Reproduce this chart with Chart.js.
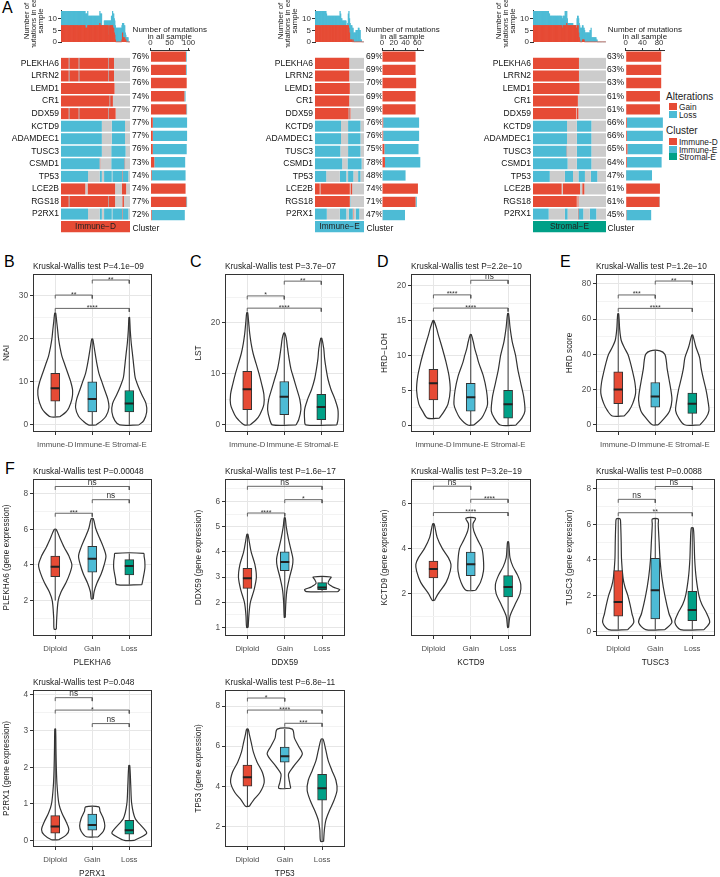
<!DOCTYPE html>
<html>
<head>
<meta charset="utf-8">
<script src="https://cdn.jsdelivr.net/npm/chart.js@4.4.1/dist/chart.umd.min.js"></script>
<style>
body { margin: 0; background: #fff; width: 720px; height: 877px; position: relative; overflow: hidden;
       font-family: 'Liberation Sans', Arial, sans-serif; color: #222; }
canvas { position: absolute; }
.letter { position: absolute; font-size: 16px; line-height: 16px; color: #000; }
.leg { position: absolute; font-size: 8.3px; line-height: 8px; color: #222; white-space: nowrap; }
.legt { position: absolute; font-size: 10px; line-height: 10px; color: #222; }
.sw { position: absolute; width: 8px; height: 7px; }
</style>
</head>
<body>
<div class="letter" style="left:2px;top:0px">A</div>
<div class="letter" style="left:4px;top:254px">B</div>
<div class="letter" style="left:190px;top:254px">C</div>
<div class="letter" style="left:377px;top:254px">D</div>
<div class="letter" style="left:560px;top:254px">E</div>
<div class="letter" style="left:5px;top:461px">F</div>

<div class="legt" style="left:666px;top:92px">Alterations</div>
<div class="sw" style="left:669px;top:103px;background:#E64B35"></div><div class="leg" style="left:679px;top:103px">Gain</div>
<div class="sw" style="left:669px;top:111px;background:#4DBBD5"></div><div class="leg" style="left:679px;top:111px">Loss</div>
<div class="legt" style="left:666px;top:126px">Cluster</div>
<div class="sw" style="left:669px;top:138px;background:#E64B35"></div><div class="leg" style="left:679px;top:138px">Immune-D</div>
<div class="sw" style="left:669px;top:145.5px;background:#4DBBD5"></div><div class="leg" style="left:679px;top:145.5px">Immune-E</div>
<div class="sw" style="left:669px;top:153px;background:#00A087"></div><div class="leg" style="left:679px;top:153px">Stromal-E</div>

<script>
// ---------- panel A data ----------
const genes = ['PLEKHA6', 'LRRN2', 'LEMD1', 'CR1', 'DDX59', 'KCTD9', 'ADAMDEC1', 'TUSC3', 'CSMD1', 'TP53', 'LCE2B', 'RGS18', 'P2RX1'];

// runs of samples along each row: G = gain, L = loss, N = no alteration
const immuneDRuns = [
  'G14 L1 G17 L1 G53 L1 G9 N29',
  'G14 L1 G17 L1 G53 L1 G9 N29',
  'G97 N28',
  'G88 L1 G5 N31',
  'G14 L1 G17 L1 G53 L1 G12 N26',
  'L74 N18 L24 N9',
  'L74 N18 L24 N9',
  'L74 N17 L26 N8',
  'L70 G1 N20 L24 G1 N9',
  'L49 N21 L4 N4 L14 N1 L18 G1 L10 N3',
  'G44 N4 G50 N12 G8 N7',
  'G14 L1 G71 L1 G11 N13 G3 N11',
  'L49 N21 L4 N4 L14 N1 L18 G1 L10 N3'
];
const immuneERuns = [
  'G58 N25',
  'G58 N25',
  'G59 N24',
  'G58 N25',
  'G57 L1 G2 N23',
  'L44 N12 L21 N6',
  'L44 N12 L21 N6',
  'L43 N13 L21 N6',
  'L46 N9 L24 N4',
  'L19 N23 L11 N3 L9 N8 L4 N6',
  'G8 N1 G50 N1 G3 N20',
  'G59 L1 N23',
  'L20 N22 L11 N4 L7 G1 N4 L6 N8'
];
const stromalERuns = [
  'G85 N50',
  'G85 N50',
  'G86 N49',
  'G83 N52',
  'G80 N1 G3 N51',
  'L63 N18 L27 N27',
  'L63 N18 L27 N27',
  'L62 G1 N18 L27 N27',
  'L64 N17 L27 N27',
  'L31 N28 L15 N10 L12 N11 L12 N16',
  'G53 N2 G32 N4 G4 N40',
  'G81 N1 G2 N51',
  'L29 N30 L5 N19 G1 L9 N12 L12 N18'
];

const immuneDPct = ['76%', '76%', '76%', '74%', '77%', '77%', '77%', '76%', '73%', '74%', '74%', '77%', '72%'];
const immuneEPct = ['69%', '69%', '70%', '69%', '69%', '76%', '76%', '75%', '78%', '48%', '74%', '71%', '47%'];
const stromalEPct = ['63%', '63%', '63%', '61%', '61%', '66%', '66%', '65%', '64%', '47%', '61%', '61%', '45%'];

const immuneDGain = [93, 93, 95, 89, 94, 6, 6, 6, 10, 3, 92, 94, 3];
const immuneDLoss = [2, 2, 0, 3, 2, 90, 90, 89, 81, 89, 0, 2, 87];
const immuneEGain = [57, 57, 58, 57, 57, 2, 2, 4, 5, 1, 61, 57, 1];
const immuneELoss = [0, 0, 0, 0, 0, 61, 61, 58, 60, 39, 0, 2, 38];
const stromalEGain = [85, 85, 85, 82, 82, 3, 3, 4, 3, 1, 82, 81, 2];
const stromalELoss = [0, 0, 0, 0, 0, 86, 86, 84, 83, 62, 0, 1, 59];

const sampleTicks = [0, 5, 10];
const immuneDCountTicks = [0, 50, 100];
const immuneECountTicks = [0, 20, 40, 60];
const stromalECountTicks = [0, 20, 40, 60, 80];

// ---------- panels B-F data ----------
const clusterGroups = ['Immune-D', 'Immune-E', 'Stromal-E'];
const cnvGroups = ['Diploid', 'Gain', 'Loss'];

// violin outlines: [value, half width in category units], bottom to top
// boxes: [whisker low, q1, median, q3, whisker high]
// comparisons: [group a, group b, bracket height, label]
const ntaiViolin = [
  [[1.9, 0.13], [3, 0.29], [4, 0.37], [6, 0.45], [8, 0.47], [10, 0.42], [12, 0.34], [14, 0.26], [16, 0.18], [18, 0.13], [20, 0.09], [22, 0.066], [24, 0.04], [26, 0.013]],
  [[0, 0.105], [1, 0.26], [2, 0.37], [4, 0.45], [6, 0.42], [8, 0.34], [10, 0.26], [12, 0.18], [14, 0.13], [16, 0.09], [18, 0.053], [20, 0.013]],
  [[0, 0.26], [1, 0.39], [3, 0.47], [5, 0.45], [7, 0.34], [9, 0.24], [11, 0.16], [13, 0.13], [15, 0.105], [17, 0.08], [19, 0.053], [22, 0.026], [25, 0.008]]
];
const ntaiBox = [[2, 5.5, 8.5, 12, 26], [0, 3, 6, 10, 20], [0, 3, 5, 8, 25]];
const ntaiSig = [[1, 2, 30.2, '**'], [1, 3, 27.1, '****'], [2, 3, 33.7, '**']];
const ntaiTicks = [0, 10, 20, 30];

const lstViolin = [
  [[0, 0.08], [1, 0.24], [2, 0.34], [4, 0.45], [6, 0.45], [8, 0.39], [10, 0.32], [12, 0.24], [14, 0.16], [16, 0.105], [18, 0.066], [20, 0.04], [22, 0.013]],
  [[0, 0.32], [1, 0.39], [3, 0.45], [5, 0.42], [7, 0.34], [9, 0.26], [11, 0.18], [13, 0.13], [15, 0.09], [17, 0.053], [18, 0.013]],
  [[0, 0.42], [1, 0.45], [3, 0.45], [5, 0.37], [7, 0.26], [9, 0.18], [11, 0.13], [13, 0.09], [15, 0.066], [17, 0.013]]
];
const lstBox = [[0, 3, 7, 10.5, 22], [0, 2, 5.5, 8.5, 18], [0, 1, 3.5, 6, 17]];
const lstSig = [[1, 2, 25.3, '*'], [1, 3, 22.9, '****'], [2, 3, 28.2, '**']];
const lstTicks = [0, 10, 20];

const hrdLohViolin = [
  [[1, 0.16], [2, 0.29], [3, 0.39], [5, 0.45], [7, 0.42], [9, 0.34], [11, 0.24], [13, 0.13], [14, 0.08], [15, 0.013]],
  [[0, 0.08], [1, 0.29], [2, 0.39], [3, 0.45], [5, 0.42], [7, 0.34], [9, 0.21], [10, 0.16], [11, 0.105], [12, 0.066], [13, 0.013]],
  [[0, 0.21], [1, 0.37], [2, 0.45], [4, 0.42], [6, 0.34], [8, 0.26], [10, 0.2], [12, 0.11], [14, 0.053], [16, 0.013]]
];
const hrdLohBox = [[1, 3.6, 6, 8, 15], [0, 2, 4, 6, 13], [0, 1, 3, 5, 16]];
const hrdLohSig = [[1, 2, 18.7, '****'], [1, 3, 16.8, '****'], [2, 3, 20.8, 'ns']];
const hrdLohTicks = [0, 5, 10, 15, 20];

const hrdScoreViolin = [
  [[5, 0.16], [8, 0.29], [12, 0.39], [18, 0.47], [24, 0.45], [30, 0.39], [36, 0.32], [40, 0.26], [44, 0.16], [48, 0.08], [54, 0.04], [63, 0.013]],
  [[0, 0.08], [4, 0.26], [8, 0.39], [14, 0.45], [20, 0.42], [26, 0.37], [32, 0.32], [36, 0.3], [40, 0.26], [42, 0.13]],
  [[0, 0.21], [4, 0.37], [8, 0.45], [14, 0.42], [20, 0.37], [26, 0.3], [32, 0.24], [38, 0.2], [44, 0.1], [51, 0.013]]
];
const hrdScoreBox = [[5, 12, 20, 30, 63], [0, 10, 16, 24, 42], [0, 6.5, 12, 18, 51]];
const hrdScoreSig = [[1, 2, 73.7, '***'], [1, 3, 66.1, '****'], [2, 3, 81.6, '**']];
const hrdScoreTicks = [0, 20, 40, 60, 80];

const plekha6Violin = [
  [[0.4, 0.03], [1, 0.04], [2, 0.08], [2.5, 0.16], [3, 0.29], [3.5, 0.39], [4, 0.45], [4.5, 0.37], [5, 0.24], [5.5, 0.13], [6, 0.026]],
  [[2.1, 0.026], [2.5, 0.05], [3, 0.13], [3.5, 0.24], [4, 0.32], [4.5, 0.37], [5, 0.3], [5.5, 0.2], [6, 0.1], [6.6, 0.026]],
  [[2.9, 0.34], [3.2, 0.37], [3.8, 0.42], [4.2, 0.42], [4.5, 0.4], [4.65, 0.39]]
];
const plekha6Box = [[2, 3.35, 3.9, 4.5, 6], [2.1, 3.6, 4.35, 5.05, 6.6], [2.9, 3.45, 3.95, 4.3, 4.65]];
const plekha6Sig = [[1, 3, 8.4, 'ns'], [2, 3, 7.66, 'ns'], [1, 2, 6.9, '***']];
const plekha6Ticks = [2, 4, 6, 8];

const ddx59Violin = [
  [[1.0, 0.02], [1.5, 0.04], [2, 0.08], [2.5, 0.18], [3, 0.24], [3.5, 0.2], [4, 0.1], [4.4, 0.05], [4.7, 0.013]],
  [[1.4, 0.013], [2, 0.03], [2.5, 0.06], [3, 0.13], [3.4, 0.2], [3.7, 0.22], [4, 0.18], [4.5, 0.1], [5, 0.04], [5.35, 0.013]],
  [[2.42, 0.42], [2.5, 0.47], [2.6, 0.3], [2.75, 0.16], [2.9, 0.2], [3.0, 0.24]]
];
const ddx59Box = [[1.0, 2.55, 2.95, 3.35, 4.7], [1.4, 3.25, 3.6, 4.0, 5.35], [2.45, 2.5, 2.58, 2.78, 3.0]];
const ddx59Sig = [[1, 3, 6.6, 'ns'], [2, 3, 6.07, '*'], [1, 2, 5.54, '****']];
const ddx59Ticks = [1, 2, 3, 4, 5, 6];

const kctd9Violin = [
  [[1.7, 0.03], [2, 0.13], [2.5, 0.34], [3, 0.45], [3.3, 0.47], [3.6, 0.4], [4, 0.24], [4.5, 0.1], [5.1, 0.02]],
  [[2.15, 0.13], [2.5, 0.26], [3, 0.34], [3.5, 0.34], [4, 0.3], [4.4, 0.18], [4.8, 0.08], [5.1, 0.06], [5.35, 0.13]],
  [[0.5, 0.013], [1, 0.05], [1.5, 0.18], [2, 0.32], [2.4, 0.34], [2.8, 0.26], [3.2, 0.13], [3.6, 0.05], [4, 0.03], [4.3, 0.013]]
];
const kctd9Box = [[1.7, 2.7, 3.1, 3.45, 5.1], [2.15, 2.8, 3.3, 3.85, 5.35], [0.5, 1.85, 2.3, 2.8, 4.3]];
const kctd9Sig = [[1, 2, 6.77, 'ns'], [2, 3, 6.19, '****'], [1, 3, 5.6, '****']];
const kctd9Ticks = [2, 4, 6];

const tusc3Violin = [
  [[0.1, 0.26], [0.5, 0.42], [1, 0.37], [1.5, 0.32], [2, 0.26], [2.5, 0.18], [3, 0.13], [4, 0.09], [5, 0.08], [6, 0.066], [6.3, 0.05]],
  [[0.1, 0.26], [0.5, 0.45], [1, 0.37], [2, 0.26], [3, 0.18], [4, 0.13], [5, 0.105], [6, 0.08], [6.3, 0.08]],
  [[0.1, 0.32], [0.5, 0.47], [1, 0.39], [1.5, 0.26], [2, 0.18], [3, 0.105], [4, 0.066], [5, 0.05], [5.8, 0.026]]
];
const tusc3Box = [[0.1, 0.85, 1.65, 3.4, 6.3], [0.1, 0.7, 2.3, 4.1, 6.3], [0.1, 0.6, 1.2, 2.25, 5.8]];
const tusc3Sig = [[2, 3, 8.12, 'ns'], [1, 2, 7.4, 'ns'], [1, 3, 6.65, '**']];
const tusc3Ticks = [0, 2, 4, 6, 8];

const p2rx1Violin = [
  [[0.02, 0.1], [0.15, 0.3], [0.3, 0.37], [0.5, 0.3], [0.75, 0.18], [1, 0.1], [1.5, 0.05], [2, 0.03], [2.5, 0.02], [3.05, 0.01]],
  [[0.1, 0.16], [0.25, 0.3], [0.4, 0.34], [0.6, 0.3], [0.8, 0.21], [0.92, 0.18]],
  [[0, 0.13], [0.1, 0.34], [0.2, 0.47], [0.35, 0.37], [0.6, 0.16], [1, 0.066], [1.5, 0.04], [2.05, 0.013]]
];
const p2rx1Box = [[0.02, 0.2, 0.38, 0.68, 3.05], [0.1, 0.28, 0.42, 0.72, 0.92], [0, 0.17, 0.28, 0.55, 2.05]];
const p2rx1Sig = [[1, 2, 3.91, 'ns'], [1, 3, 3.57, '*'], [2, 3, 3.2, 'ns']];
const p2rx1Ticks = [0, 1, 2, 3, 4];

const tp53Violin = [
  [[3.0, 0.05], [3.3, 0.16], [3.7, 0.34], [4.2, 0.45], [4.7, 0.4], [5.2, 0.26], [5.7, 0.16], [6.2, 0.1], [6.6, 0.05], [6.85, 0.02]],
  [[3.9, 0.16], [4.2, 0.13], [4.6, 0.1], [5.0, 0.24], [5.6, 0.47], [6.0, 0.37], [6.4, 0.26], [6.85, 0.2]],
  [[1.25, 0.04], [1.8, 0.06], [2.3, 0.1], [2.8, 0.2], [3.3, 0.32], [3.8, 0.4], [4.3, 0.37], [4.8, 0.26], [5.3, 0.16], [5.8, 0.1], [6.35, 0.026]]
];
const tp53Box = [[3.0, 4.0, 4.45, 5.05, 6.85], [3.9, 5.2, 5.5, 5.95, 6.85], [1.25, 3.3, 3.9, 4.6, 6.35]];
const tp53Sig = [[1, 2, 8.4, '*'], [1, 3, 7.8, '****'], [2, 3, 7.14, '***']];
const tp53Ticks = [2, 4, 6, 8];

// ---------- drawing ----------
const RED = '#E64B35', BLUE = '#4DBBD5', GREEN = '#00A087', GRAY = '#CCCCCC';
const FONT = "'Liberation Sans', Arial, sans-serif";
Chart.defaults.font.family = FONT;
Chart.defaults.font.size = 8.3;
Chart.defaults.color = '#222';
Chart.defaults.animation = false;
Chart.defaults.events = [];
Chart.defaults.plugins.legend.display = false;
Chart.defaults.plugins.tooltip.enabled = false;

function addCanvas(x, y, w, h) {
  const c = document.createElement('canvas');
  c.width = Math.round(w);
  c.height = Math.round(h);
  c.style.left = Math.round(x) + 'px';
  c.style.top = Math.round(y) + 'px';
  document.body.appendChild(c);
  return c;
}

function parseRuns(s) {
  return s.split(' ').map(t => [t[0], +t.slice(1)]);
}

function codeAt(r, s) {
  let acc = 0;
  for (const [c, n] of r) {
    acc += n;
    if (s < acc) return c;
  }
  return 'N';
}

function oncoPanel(o) {
  const runs = o.runs.map(parseRuns);
  const N = runs[0].reduce((a, r) => a + r[1], 0);
  const hmW = o.hmRight - o.hmLeft;
  const codeColor = { G: RED, L: BLUE, N: GRAY };

  // heatmap rows as stacked horizontal bars, plus the cluster row
  const nSeg = Math.max(...runs.map(r => r.length));
  const hmSets = [];
  for (let k = 0; k < nSeg; k++) {
    const data = [], bg = [];
    runs.forEach(r => {
      data.push(r[k] ? r[k][1] : 0);
      bg.push(r[k] ? codeColor[r[k][0]] : GRAY);
    });
    data.push(k === 0 ? N : 0);
    bg.push(o.clusterColor);
    hmSets.push({ data, backgroundColor: bg, borderWidth: 0, barPercentage: 1, categoryPercentage: 0.88 });
  }
  new Chart(addCanvas(o.hmLeft - 60, 50, 60 + hmW, 190), {
    type: 'bar',
    data: { labels: genes.concat(['']), datasets: hmSets },
    options: {
      indexAxis: 'y', responsive: false, devicePixelRatio: 1,
      layout: { padding: 0 },
      scales: {
        x: { display: false, stacked: true, min: 0, max: N },
        y: {
          stacked: true, afterFit: s => { s.width = 60; },
          grid: { display: false, drawTicks: false }, border: { display: false },
          ticks: { color: '#111', padding: 2, autoSkip: false, font: { size: 8.5 } }
        }
      }
    },
    plugins: [{
      id: 'clusterText',
      afterDatasetsDraw(ch) {
        const c = ch.ctx;
        c.save();
        c.font = '8.3px ' + FONT;
        c.fillStyle = '#222';
        c.textAlign = 'center';
        c.textBaseline = 'middle';
        c.fillText(o.cluster, (ch.chartArea.left + ch.chartArea.right) / 2, ch.scales.y.getPixelForValue(13));
        c.restore();
      }
    }]
  });

  // mutations per sample (summed from the rows above)
  const gainPer = [], lossPer = [], idx = [];
  for (let s = 0; s < N; s++) {
    let g = 0, l = 0;
    runs.forEach(r => {
      const c = codeAt(r, s);
      if (c === 'G') g++;
      if (c === 'L') l++;
    });
    gainPer.push(g);
    lossPer.push(l);
    idx.push(s);
  }
  new Chart(addCanvas(o.hmLeft - 50, 0, 50 + hmW, 48), {
    type: 'bar',
    data: {
      labels: idx,
      datasets: [
        { data: gainPer, backgroundColor: RED, borderWidth: 0, barPercentage: 1, categoryPercentage: 1 },
        { data: lossPer, backgroundColor: BLUE, borderWidth: 0, barPercentage: 1, categoryPercentage: 1 }
      ]
    },
    options: {
      responsive: false, devicePixelRatio: 1,
      layout: { padding: { top: 10 } },
      scales: {
        x: { display: false, stacked: true },
        y: {
          stacked: true, min: 0, max: 13.6,
          afterFit: s => { s.width = 50; },
          afterBuildTicks: s => { s.ticks = sampleTicks.map(v => ({ value: v })); },
          grid: { drawOnChartArea: false, tickLength: 3, tickColor: '#333' },
          border: { display: true, color: '#333' },
          ticks: { color: '#333', padding: 1, font: { size: 8 } }
        }
      }
    },
    plugins: [{
      id: 'sideTitle',
      afterDraw(ch) {
        const c = ch.ctx;
        const lines = ['Number of', 'mutations in each', 'sample'];
        c.save();
        c.font = '7.8px ' + FONT;
        c.fillStyle = '#222';
        c.textAlign = 'center';
        c.textBaseline = 'middle';
        lines.forEach((t, i) => {
          c.save();
          c.translate(15.7 + i * 7, 21);
          c.rotate(-Math.PI / 2);
          c.fillText(t, 0, 0);
          c.restore();
        });
        c.restore();
      }
    }]
  });

  // percentages + mutation counts
  new Chart(addCanvas(o.pctLeft, 0, o.barRight - o.pctLeft + 30, 240), {
    type: 'bar',
    data: {
      labels: o.pct.concat(['']),
      datasets: [
        { data: o.gain.concat([0]), backgroundColor: RED, borderWidth: 0, barPercentage: 1, categoryPercentage: 0.78 },
        { data: o.loss.concat([0]), backgroundColor: BLUE, borderWidth: 0, barPercentage: 1, categoryPercentage: 0.78 }
      ]
    },
    options: {
      indexAxis: 'y', responsive: false, devicePixelRatio: 1,
      layout: { padding: { right: 30 } },
      scales: {
        x: {
          position: 'top', stacked: true, min: 0, max: o.barMax,
          afterFit: s => { s.height = 50; },
          afterBuildTicks: s => { s.ticks = o.ticks.map(v => ({ value: v })); },
          grid: { drawOnChartArea: false, tickLength: 2, tickColor: '#333' },
          border: { display: true, color: '#333' },
          ticks: { padding: 0, color: '#333', maxRotation: 0, font: { size: 7.8 } }
        },
        y: {
          stacked: true, afterFit: s => { s.width = o.barLeft - o.pctLeft; },
          grid: { display: false, drawTicks: false }, border: { display: false },
          ticks: { crossAlign: 'far', padding: 0, color: '#111', autoSkip: false, font: { size: 8.5 } }
        }
      }
    },
    plugins: [{
      id: 'countLabels',
      afterDraw(ch) {
        const c = ch.ctx, a = ch.chartArea;
        c.save();
        c.font = '8.5px ' + FONT;
        c.fillStyle = '#111';
        c.textAlign = 'left';
        c.textBaseline = 'middle';
        c.fillText('Cluster', 0.5, ch.scales.y.getPixelForValue(13));
        c.font = '8px ' + FONT;
        c.fillStyle = '#222';
        c.textAlign = 'center';
        const cx = (a.left + a.right) / 2;
        c.fillText('Number of mutations', cx, 29.5);
        c.fillText('in all sample', cx, 36.8);
        c.restore();
      }
    }]
  });
}

const framePlugin = {
  id: 'frame',
  afterDraw(ch) {
    const a = ch.chartArea, c = ch.ctx;
    c.save();
    c.strokeStyle = '#333';
    c.lineWidth = 1;
    c.strokeRect(Math.round(a.left) + 0.5, Math.round(a.top) + 0.5, Math.round(a.right - a.left) - 1, Math.round(a.bottom - a.top) - 1);
    c.restore();
  }
};

function violinPanel(o) {
  const ML = 34, MT = 22, MB = 34, MR = 4;
  const [l, t, r, b] = o.box;
  const cv = addCanvas(l - ML, t - MT, r - l + ML + MR, b - t + MT + MB);
  const colors = [RED, BLUE, GREEN];
  const datasets = [];

  o.violins.forEach((prof, i) => {
    const c = i + 1;
    const right = prof.map(p => ({ x: c + p[1], y: p[0] }));
    const left = prof.slice().reverse().map(p => ({ x: c - p[1], y: p[0] }));
    datasets.push({
      type: 'scatter', showLine: true, data: right.concat(left, [right[0]]),
      borderColor: '#333', borderWidth: 1.2, pointRadius: 0, tension: 0.3,
      fill: 'shape', backgroundColor: '#fff', order: 5
    });
  });

  const wh = [];
  o.boxes.forEach((s, i) => { wh.push({ x: i + 1, y: s[0] }, { x: i + 1, y: s[4] }, { x: i + 1, y: null }); });
  datasets.push({ type: 'scatter', showLine: true, spanGaps: false, data: wh, borderColor: '#333', borderWidth: 1, pointRadius: 0, order: 4 });

  datasets.push({
    type: 'bar', data: o.boxes.map((s, i) => ({ x: i + 1, y: [s[1], s[3]] })),
    backgroundColor: colors, borderColor: '#333', borderWidth: 1, borderSkipped: false, barThickness: 9, order: 3
  });

  datasets.push({
    type: 'scatter', data: o.boxes.map((s, i) => ({ x: i + 1, y: s[2] })),
    pointStyle: 'line', pointRadius: 4.5, pointBorderWidth: 2, pointBorderColor: '#222', pointBackgroundColor: '#222', order: 2
  });

  const tip = (o.yRange[1] - o.yRange[0]) * 0.022;
  o.sig.forEach(s => {
    datasets.push({
      type: 'scatter', showLine: true,
      data: [{ x: s[0], y: s[2] - tip }, { x: s[0], y: s[2] }, { x: s[1], y: s[2] }, { x: s[1], y: s[2] - tip }],
      borderColor: '#555', borderWidth: 0.9, pointRadius: 0, order: 1
    });
  });

  const maj = o.ticks, step = maj[1] - maj[0];
  const tks = [];
  for (let k = -1; k <= 2 * (maj.length - 1) + 1; k++) {
    const v = maj[0] + k * step / 2;
    if (v >= o.yRange[0] && v <= o.yRange[1]) tks.push({ value: v, minor: k % 2 !== 0 });
  }

  new Chart(cv, {
    type: 'scatter',
    data: { datasets },
    options: {
      responsive: false, devicePixelRatio: 1,
      layout: { padding: { top: MT, right: MR, left: 0, bottom: 0 } },
      scales: {
        x: {
          type: 'linear', min: 0.4, max: 3.6, offset: false,
          afterFit: s => { s.height = MB; },
          afterBuildTicks: s => { s.ticks = [{ value: 1 }, { value: 2 }, { value: 3 }]; },
          ticks: { callback: v => o.groups[Math.round(v) - 1], color: '#4d4d4d', padding: 5, maxRotation: 0, autoSkip: false, font: { size: 7.8 } },
          grid: { color: '#e6e6e6', tickLength: 3, tickColor: '#333', offset: false },
          border: { display: false },
          title: { display: !!o.xTitle, text: o.xTitle || '', color: '#222', padding: { top: 0, bottom: 2 }, font: { size: 8.3 } }
        },
        y: {
          type: 'linear', min: o.yRange[0], max: o.yRange[1],
          afterFit: s => { s.width = ML; },
          afterBuildTicks: s => { s.ticks = tks.map(x => ({ value: x.value, minor: x.minor })); },
          ticks: {
            callback: (v, i, arr) => (arr[i] && arr[i].minor) ? '' : String(v),
            color: '#4d4d4d', padding: 2, autoSkip: false, font: { size: 8.3 }
          },
          grid: {
            color: c => (c.tick && c.tick.minor) ? '#f3f3f3' : '#e6e6e6',
            tickColor: c => (c.tick && c.tick.minor) ? 'rgba(0,0,0,0)' : '#333',
            tickLength: 3
          },
          border: { display: false },
          title: { display: true, text: o.yTitle, color: '#222', padding: { top: 3, bottom: 0 }, font: { size: 8.3 } }
        }
      }
    },
    plugins: [framePlugin, {
      id: 'notes',
      afterDatasetsDraw(ch) {
        const c = ch.ctx, xs = ch.scales.x, ys = ch.scales.y;
        c.save();
        c.fillStyle = '#333';
        c.textAlign = 'center';
        c.textBaseline = 'alphabetic';
        o.sig.forEach(s => {
          const star = s[3] !== 'ns';
          c.font = (star ? 7 : 8.3) + 'px ' + FONT;
          const x = (xs.getPixelForValue(s[0]) + xs.getPixelForValue(s[1])) / 2;
          const y = ys.getPixelForValue(s[2]) + (star ? 1.5 : -1.5);
          c.fillText(s[3], x, y);
        });
        c.font = '8.3px ' + FONT;
        c.fillStyle = '#222';
        c.textAlign = 'left';
        c.textBaseline = 'middle';
        c.fillText(o.title, ch.chartArea.left, ch.chartArea.top - 7);
        c.restore();
      }
    }]
  });
}

// ---------- build ----------
oncoPanel({ runs: immuneDRuns, hmLeft: 61, hmRight: 130, cluster: 'Immune−D', clusterColor: RED,
  pct: immuneDPct, gain: immuneDGain, loss: immuneDLoss, ticks: immuneDCountTicks,
  pctLeft: 131.5, barLeft: 150, barRight: 188, barMax: 101 });
oncoPanel({ runs: immuneERuns, hmLeft: 315, hmRight: 364, cluster: 'Immune−E', clusterColor: BLUE,
  pct: immuneEPct, gain: immuneEGain, loss: immuneELoss, ticks: immuneECountTicks,
  pctLeft: 366, barLeft: 382, barRight: 422.7, barMax: 69.6 });
oncoPanel({ runs: stromalERuns, hmLeft: 533, hmRight: 606, cluster: 'Stromal−E', clusterColor: GREEN,
  pct: stromalEPct, gain: stromalEGain, loss: stromalELoss, ticks: stromalECountTicks,
  pctLeft: 607, barLeft: 625.7, barRight: 664.3, barMax: 91.7 });

violinPanel({ box: [33, 274, 154, 432], yRange: [-1.65, 35.1], ticks: ntaiTicks, groups: clusterGroups,
  violins: ntaiViolin, boxes: ntaiBox, sig: ntaiSig, title: 'Kruskal-Wallis test P=4.1e−09', yTitle: 'NtAI' });
violinPanel({ box: [225, 274, 346, 432], yRange: [-1.4, 29.6], ticks: lstTicks, groups: clusterGroups,
  violins: lstViolin, boxes: lstBox, sig: lstSig, title: 'Kruskal-Wallis test P=3.7e−07', yTitle: 'LST' });
violinPanel({ box: [411, 274, 533, 432], yRange: [-1.0, 21.7], ticks: hrdLohTicks, groups: clusterGroups,
  violins: hrdLohViolin, boxes: hrdLohBox, sig: hrdLohSig, title: 'Kruskal-Wallis test P=2.2e−10', yTitle: 'HRD−LOH' });
violinPanel({ box: [596, 274, 717, 432], yRange: [-4.1, 85.6], ticks: hrdScoreTicks, groups: clusterGroups,
  violins: hrdScoreViolin, boxes: hrdScoreBox, sig: hrdScoreSig, title: 'Kruskal-Wallis test P=1.2e−10', yTitle: 'HRD score' });

violinPanel({ box: [33, 479, 154, 636], yRange: [0.02, 8.82], ticks: plekha6Ticks, groups: cnvGroups,
  violins: plekha6Violin, boxes: plekha6Box, sig: plekha6Sig, title: 'Kruskal-Wallis test P=0.00048',
  yTitle: 'PLEKHA6 (gene expression)', xTitle: 'PLEKHA6' });
violinPanel({ box: [225, 479, 347, 636], yRange: [0.66, 6.89], ticks: ddx59Ticks, groups: cnvGroups,
  violins: ddx59Violin, boxes: ddx59Box, sig: ddx59Sig, title: 'Kruskal-Wallis test P=1.6e−17',
  yTitle: 'DDX59 (gene expression)', xTitle: 'DDX59' });
violinPanel({ box: [411, 479, 533, 636], yRange: [0.12, 7.09], ticks: kctd9Ticks, groups: cnvGroups,
  violins: kctd9Violin, boxes: kctd9Box, sig: kctd9Sig, title: 'Kruskal-Wallis test P=3.2e−19',
  yTitle: 'KCTD9 (gene expression)', xTitle: 'KCTD9' });
violinPanel({ box: [596, 479, 717, 636], yRange: [-0.26, 8.54], ticks: tusc3Ticks, groups: cnvGroups,
  violins: tusc3Violin, boxes: tusc3Box, sig: tusc3Sig, title: 'Kruskal-Wallis test P=0.0088',
  yTitle: 'TUSC3 (gene expression)', xTitle: 'TUSC3' });
violinPanel({ box: [33, 690, 154, 847], yRange: [-0.18, 4.12], ticks: p2rx1Ticks, groups: cnvGroups,
  violins: p2rx1Violin, boxes: p2rx1Box, sig: p2rx1Sig, title: 'Kruskal-Wallis test P=0.048',
  yTitle: 'P2RX1 (gene expression)', xTitle: 'P2RX1' });
violinPanel({ box: [225, 690, 347, 847], yRange: [0.97, 8.8], ticks: tp53Ticks, groups: cnvGroups,
  violins: tp53Violin, boxes: tp53Box, sig: tp53Sig, title: 'Kruskal-Wallis test P=6.8e−11',
  yTitle: 'TP53 (gene expression)', xTitle: 'TP53' });
</script>
</body>
</html>
